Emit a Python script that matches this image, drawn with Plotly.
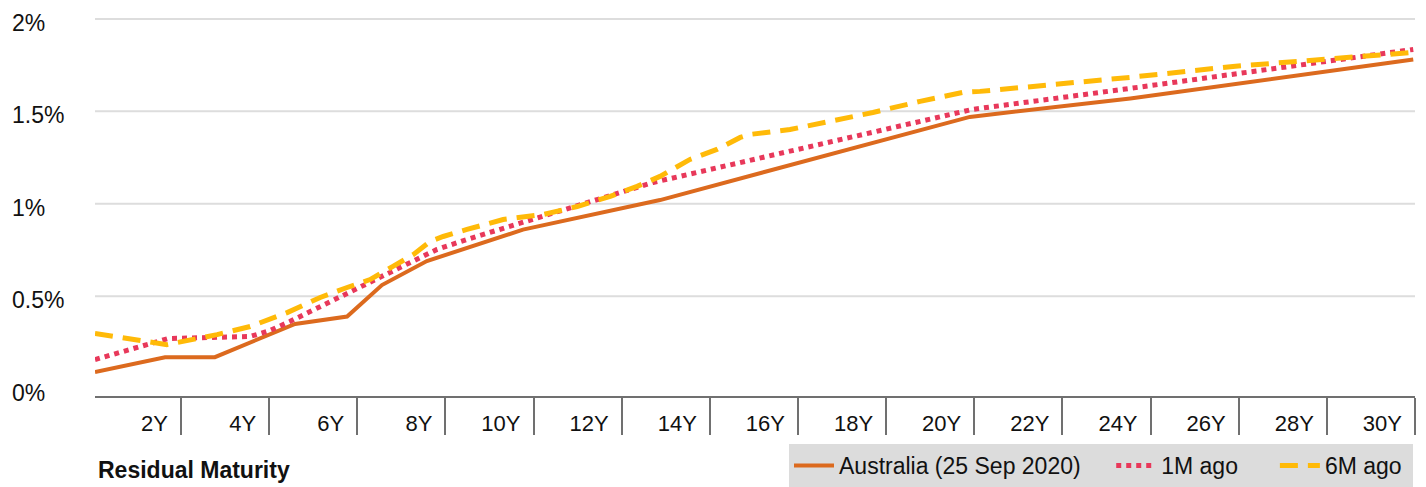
import plotly.graph_objects as go

# ---- data (years to maturity, yield in %) ----
tick_years = list(range(2, 31, 2))
tick_labels = [f"{y}Y" for y in tick_years]
y_grid = [0.5, 1.0, 1.5, 2.0]
y_ticks = [0, 0.5, 1, 1.5, 2]
y_tick_labels = ["0%", "0.5%", "1%", "1.5%", "2%"]

aus_x = [0.05, 1.64, 2.77, 3.79, 4.59, 5.77, 6.56, 7.58, 9.76, 12.87, 17.86, 19.90, 23.54, 29.96]
aus_y = [0.09, 0.17, 0.17, 0.27, 0.35, 0.39, 0.56, 0.69, 0.86, 1.02, 1.34, 1.47, 1.57, 1.78]

m1_x = [0.05, 1.71, 3.57, 4.02, 4.47, 7.20, 7.81, 8.49, 11.40, 12.71, 19.97, 23.38, 29.96]
m1_y = [0.157, 0.271, 0.282, 0.314, 0.363, 0.682, 0.753, 0.807, 1.023, 1.115, 1.511, 1.619, 1.835]

m6_x = [0.05, 1.68, 2.82, 3.57, 4.41, 5.16, 5.77, 6.29, 6.81, 7.27, 7.65, 7.95, 8.49, 9.31,
        10.22, 10.99, 11.74, 12.35, 12.87, 13.55, 14.16, 14.69, 14.91, 15.82, 16.73, 17.70,
        18.77, 19.75, 20.13, 21.43, 23.54, 25.87, 27.78, 29.96]
m6_y = [0.298, 0.238, 0.292, 0.336, 0.411, 0.493, 0.547, 0.590, 0.661, 0.725, 0.796, 0.823, 0.861, 0.915,
        0.942, 0.985, 1.040, 1.094, 1.148, 1.240, 1.294, 1.359, 1.375, 1.402, 1.446, 1.494,
        1.554, 1.603, 1.608, 1.635, 1.684, 1.743, 1.776, 1.819]

series_names = ["Australia (25 Sep 2020)", "1M ago", "6M ago"]

FONT = "Liberation Sans, Arial, Helvetica, sans-serif"
TXT = "#111111"
NB = "\u00a0"

fig = go.Figure()
fig.add_trace(go.Scatter(x=aus_x, y=aus_y, mode="lines", name=series_names[0] + NB * 4,
                         line=dict(color="#DC6A1E", width=4)))
fig.add_trace(go.Scatter(x=m1_x, y=m1_y, mode="lines", name=series_names[1] + NB * 5,
                         line=dict(color="#E8385A", width=5, dash="5px,5px")))
fig.add_trace(go.Scatter(x=m6_x, y=m6_y, mode="lines", name=series_names[2] + NB,
                         line=dict(color="#FFBA08", width=5, dash="18px,10px")))

for v in y_grid:
    fig.add_shape(type="line", xref="x domain", x0=0, x1=1, yref="y", y0=v, y1=v,
                  line=dict(color="#DDDDDD", width=2), layer="below")

# page has an 8px body margin: figure coordinates = page coordinates - 8
OFF = 8
W, H = 1426 - OFF, 487 - OFF
ml, mr = 0, 11
mt, mb = 18 - OFF, H - (396 - OFF)
pw = W - ml - mr
ph = H - mt - mb
x_start = (95 - OFF - ml) / pw

fig.update_layout(
    width=W, height=H,
    margin=dict(l=ml, r=mr, t=mt, b=mb, autoexpand=False),
    paper_bgcolor="white", plot_bgcolor="white",
    font=dict(family=FONT, size=22, color=TXT),
    xaxis=dict(domain=[x_start, 1], range=[0.05, 30.0], tickmode="array",
               tickvals=tick_years, ticktext=tick_labels, showgrid=False, zeroline=False,
               showline=True, linecolor="#707070", linewidth=2,
               ticks="outside", ticklen=37, tickwidth=2, tickcolor="#707070",
               ticklabelposition="outside left", ticklabelshift=-11, ticklabelstandoff=7,
               tickfont=dict(size=22, color=TXT)),
    yaxis=dict(range=[-0.04, 2.005], tickmode="array", tickvals=y_ticks, ticktext=y_tick_labels,
               showgrid=False, zeroline=False, showline=False, anchor="free", position=0,
               ticklabelposition="inside", ticklabeloverflow="allow", ticks="", ticklabelshift=4,
               tickfont=dict(size=23, color=TXT)),
    showlegend=True,
    legend=dict(orientation="h", x=(1413 - OFF - ml) / pw, xanchor="right",
                y=-(487 - 396) / ph, yanchor="bottom",
                bgcolor="#DCDCDC", font=dict(size=23, color=TXT), itemwidth=40,
                traceorder="normal"),
    annotations=[dict(text="<b>Residual Maturity</b>", xref="paper", yref="paper",
                      x=(96 - OFF - ml) / pw, y=-(470 - 396) / ph, xanchor="left", yanchor="middle",
                      showarrow=False, font=dict(size=23, color=TXT, family=FONT))],
)

fig.write_html("out.html")
